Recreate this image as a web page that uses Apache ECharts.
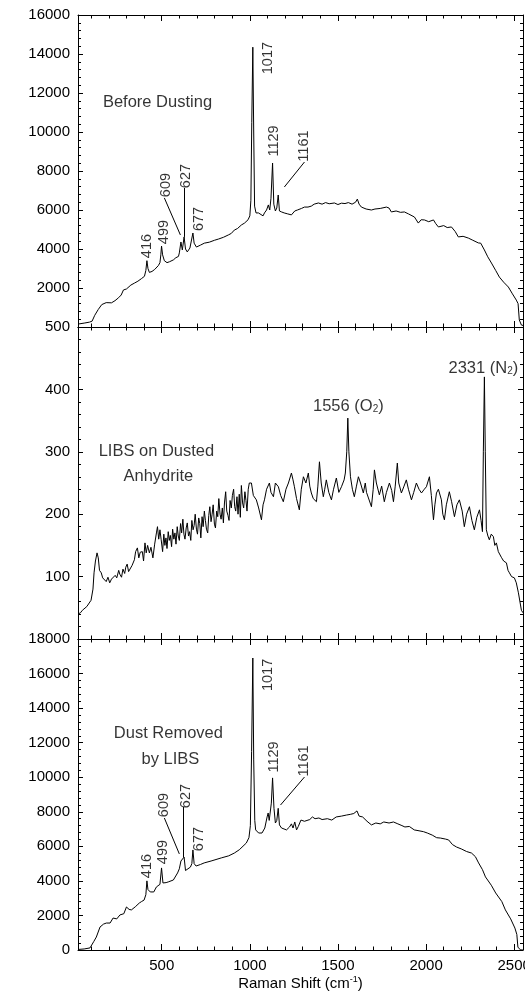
<!DOCTYPE html>
<html><head><meta charset="utf-8">
<script src="https://cdn.jsdelivr.net/npm/echarts@6/dist/echarts.min.js"></script>
<style>html,body{margin:0;padding:0;background:#fff}#c{width:525px;height:996px}</style>
</head><body><div id="c"></div>
<script>
const FONT = 'Liberation Sans, Arial, Helvetica, sans-serif';

// x-axis ticks (Raman shift, cm-1)
const xMajorTicks = [500, 1000, 1500, 2000, 2500];
const xMinorTicks = [100, 200, 300, 400, 600, 700, 800, 900, 1100, 1200, 1300, 1400, 1600, 1700, 1800, 1900, 2100, 2200, 2300, 2400];

// Panel 1: Before Dusting
const beforeX = [25,60,90,105,120,140,160,185,215,235,255,270,283,300,311,325,345,365,385,402,410,416,422,430,445,460,481,490,495,499,505,515,530,545,566,580,595,600,609,617,627,635,645,660,668,677,684,697,720,742,770,800,822,850,878,895,912,930,952,970,990,1000,1006,1011,1017,1022,1027,1035,1049,1060,1075,1083,1095,1105,1113,1120,1129,1136,1145,1153,1161,1168,1180,1195,1215,1236,1255,1270,1293,1310,1330,1349,1365,1389,1410,1430,1450,1480,1500,1520,1540,1559,1580,1600,1610,1620,1633,1660,1690,1710,1740,1775,1790,1803,1830,1855,1877,1900,1934,1956,1972,1991,2015,2042,2055,2070,2100,2120,2144,2165,2183,2210,2240,2265,2297,2310,2331,2350,2371,2395,2416,2440,2467,2490,2512,2522,2529,2541,2550];
const beforeY = [150,200,250,300,600,900,1150,1250,1240,1350,1500,1640,1900,1950,2050,2150,2250,2350,2480,2600,2900,3400,3000,2800,2850,2950,3150,3300,3700,4150,3700,3400,3300,3350,3440,3550,3620,3800,4360,3950,4620,4000,3850,4050,4100,4820,4300,4100,4200,4300,4350,4450,4510,4600,4720,4800,4970,5050,5230,5330,5500,5700,6500,10500,14350,10000,6200,5850,5850,5750,5700,5850,6000,6260,6000,6600,8410,6300,5950,6100,6770,5950,5900,5850,5800,5750,5950,6000,6080,6150,6150,6200,6300,6360,6300,6380,6320,6360,6280,6350,6330,6380,6300,6400,6560,6300,6150,6050,6000,6050,6080,6150,6100,5900,5950,5880,5900,5800,5640,5330,5500,5490,5400,5490,5300,5130,5200,5100,5130,4900,4620,4650,4560,4450,4310,4300,3950,3600,3280,2900,2560,2300,2050,1700,1380,1200,360,100,80];

// Panel 2: LIBS on Dusted Anhydrite
const libsX = [25,39,50,61,75,85,99,110,116,124,133,140,147,157,165,175,185,195,205,215,225,236,245,256,262,272,280,290,296,304,312,323,332,345,352,362,370,378,390,397,405,412,420,430,439,446,450,460,470,476,483,490,497,505,512,518,524,530,537,543,549,556,562,569,575,581,588,594,600,607,613,620,626,632,639,645,652,658,665,671,678,684,690,697,703,710,716,722,729,735,742,748,754,761,767,773,780,786,792,799,805,812,818,824,831,837,844,850,856,863,869,876,882,888,895,901,908,914,920,927,933,940,946,952,959,965,972,978,984,991,997,1009,1020,1037,1050,1066,1075,1083,1095,1111,1120,1134,1145,1162,1175,1190,1205,1219,1236,1245,1253,1265,1281,1292,1304,1318,1332,1340,1349,1360,1378,1386,1395,1405,1417,1425,1434,1448,1463,1475,1491,1505,1520,1535,1542,1550,1556,1562,1571,1582,1593,1605,1616,1628,1644,1655,1662,1673,1690,1700,1707,1718,1735,1748,1763,1775,1792,1805,1815,1825,1837,1845,1860,1875,1888,1900,1917,1930,1945,1960,1974,1990,2002,2019,2030,2042,2050,2059,2070,2087,2095,2104,2115,2132,2145,2161,2175,2189,2205,2217,2230,2246,2260,2274,2288,2303,2312,2320,2325,2331,2336,2342,2351,2359,2370,2382,2390,2399,2410,2427,2440,2456,2465,2473,2485,2501,2512,2524,2541,2550];
const libsY = [40,42,46,48,52,55,62,80,106,125,138,130,110,106,98,100,92,99,90,96,94,102,98,110,104,99,112,105,115,120,108,110,118,127,140,146,130,139,140,125,154,138,150,138,147,150,130,152,170,180,160,175,159,140,168,150,162,145,172,158,166,148,176,160,170,152,180,165,158,185,170,192,168,160,178,186,165,172,158,190,175,182,200,176,168,194,185,162,196,180,205,190,176,170,198,212,188,200,215,184,178,205,196,225,200,192,210,186,218,236,205,198,190,222,210,230,240,212,205,228,200,232,195,246,218,210,236,222,205,240,250,250,230,223,210,191,215,223,240,250,235,228,250,244,230,220,240,250,266,255,244,225,207,240,260,250,266,245,234,225,220,245,284,250,228,240,255,235,223,240,258,235,244,255,266,300,354,300,260,240,228,245,260,250,234,250,235,226,212,240,271,250,231,245,220,235,250,238,220,245,282,250,234,245,255,240,223,235,250,240,234,240,244,260,230,191,215,234,240,223,200,191,215,236,220,196,215,223,205,180,200,212,190,175,195,207,190,172,300,420,300,175,165,159,168,164,150,154,140,131,125,122,110,106,100,98,90,74,46,42];

// Panel 3: Dust Removed by LIBS
const removedX = [25,60,93,104,115,129,150,170,186,207,224,245,263,285,300,315,328,350,373,385,400,410,416,422,435,455,470,490,499,507,525,537,566,590,600,609,617,627,635,646,663,671,677,684,695,720,741,780,838,880,912,940,980,995,1003,1010,1017,1022,1028,1033,1050,1069,1085,1098,1104,1110,1117,1122,1129,1137,1145,1153,1161,1168,1180,1190,1208,1225,1236,1245,1255,1265,1275,1290,1310,1340,1355,1370,1392,1410,1440,1465,1490,1520,1548,1570,1590,1608,1620,1640,1665,1690,1715,1740,1760,1790,1815,1840,1863,1880,1905,1933,1960,1985,2007,2035,2060,2081,2110,2128,2150,2173,2200,2230,2258,2280,2298,2320,2337,2370,2395,2430,2450,2480,2504,2515,2521,2535,2550];
const removedY = [30,60,120,170,500,750,1330,1500,1560,1560,1850,1800,2030,2100,2490,2350,2320,2500,2720,2800,2890,3200,4000,3500,3360,3360,3650,3800,4750,3880,3900,3940,4050,4460,4700,5150,5040,5380,4600,4510,4800,5000,5790,5000,4860,4950,5040,5150,5330,5450,5610,5800,6190,6500,7200,11500,16900,11000,7500,6950,6770,6770,7060,7700,7930,7500,7520,8500,9960,8200,7350,7500,8200,7240,7060,7120,6950,7120,7300,7060,7410,6950,7150,7520,7450,7550,7700,7600,7640,7550,7600,7520,7700,7750,7810,7850,7900,8050,7750,7700,7450,7240,7350,7300,7410,7350,7410,7300,7200,7120,7150,6950,6900,6850,6770,6650,6500,6480,6420,6370,6100,5960,5850,5700,5610,5400,5040,4650,4230,3750,3300,2800,2320,1800,1270,900,170,10,0];

// Annotations
const peakNames = ['416', '499', '609', '627', '677', '1017', '1129', '1161'];
const beforePeakX = [419, 515, 527, 640, 714, 1105, 1139, 1310];
const beforePeakY = [4150, 4870, 7280, 7740, 5540, 13790, 9540, 9280];
const beforeLeaders = [[[515, 6620], [606, 4720]], [[629, 7130], [629, 4620]], [[1310, 8460], [1196, 7180]]];
const removedPeakX = [419, 510, 515, 640, 714, 1105, 1139, 1310];
const removedPeakY = [4860, 5670, 8390, 8910, 6420, 15920, 11170, 10940];
const removedLeaders = [[[515, 7640], [600, 5560]], [[623, 8280], [623, 5380]], [[1310, 10010], [1174, 8390]]];
const beforeTexts = [['Before Dusting', 476, 11540]];
const libsTexts = [['LIBS on Dusted', 470, 300], ['Anhydrite', 481, 260], ['1556 (O{s|2})', 1559, 373], ['2331 (N{s|2})', 2325, 434]];
const removedTexts = [['Dust Removed', 538, 12560], ['by LIBS', 549, 11000]];

const zip = (xs, ys) => xs.map((x, i) => [x, ys[i]]);
const plain = v => String(v);
const grids = [
  {left: 78, right: 2, top: 15, height: 312, containLabel: false, outerBoundsMode: 'none'},
  {left: 78, right: 2, top: 327, height: 312, containLabel: false, outerBoundsMode: 'none'},
  {left: 78, right: 2, top: 639, height: 311, containLabel: false, outerBoundsMode: 'none'}
];
const black = {color: '#000', width: 1};

function xa(g, pos, ticks, len, showLine, showLabels, extra) {
  return Object.assign({
    type: 'value', gridIndex: g, position: pos, min: 25, max: 2550, interval: 25,
    axisLine: {show: showLine, onZero: false, lineStyle: black},
    axisTick: {show: true, inside: true, length: len, customValues: ticks, lineStyle: black},
    axisLabel: {show: showLabels, customValues: xMajorTicks, formatter: plain, color: '#000', fontSize: 15, fontFamily: FONT, margin: 8},
    splitLine: {show: false}, minorTick: {show: false}
  }, extra || {});
}
function ya(g, pos, max, interval, showLabels, showMin) {
  return {
    type: 'value', gridIndex: g, position: pos, min: 0, max: max, interval: interval,
    axisLine: {show: true, onZero: false, lineStyle: black},
    axisTick: {show: true, inside: true, length: 5, lineStyle: black},
    minorTick: {show: true, splitNumber: 5, length: 3, lineStyle: black},
    axisLabel: {show: showLabels, showMinLabel: showMin, formatter: plain, color: '#000', fontSize: 15, fontFamily: FONT, margin: 8},
    splitLine: {show: false}
  };
}

const xAxes = [];
for (let g = 0; g < 3; g++) {
  const extra = g === 2 ? {
    name: 'Raman Shift (cm{sup|-1})', nameLocation: 'middle', nameGap: 25,
    nameTextStyle: {color: '#000', fontSize: 15, fontFamily: FONT,
      rich: {sup: {fontSize: 9, fontFamily: FONT, color: '#000', verticalAlign: 'top', padding: [0, 0, 8, 0]}}}
  } : {};
  xAxes.push(xa(g, 'bottom', xMajorTicks, 6, true, g === 2, extra));
  xAxes.push(xa(g, 'bottom', xMinorTicks, 3.5, false, false));
  xAxes.push(xa(g, 'top', xMajorTicks, 6, true, false));
  xAxes.push(xa(g, 'top', xMinorTicks, 3.5, false, false));
}
const yAxes = [
  ya(0, 'left', 16000, 2000, true, false), ya(0, 'right', 16000, 2000, false, false),
  ya(1, 'left', 500, 100, true, false), ya(1, 'right', 500, 100, false, false),
  ya(2, 'left', 18000, 2000, true, true), ya(2, 'right', 18000, 2000, false, false)
];

function spectrum(g, xs, ys) {
  return {type: 'line', xAxisIndex: 4 * g, yAxisIndex: 2 * g, data: zip(xs, ys),
    showSymbol: false, symbol: 'none', lineStyle: black, silent: true, z: 3};
}
function peakLabels(g, xs, ys, leaders) {
  return {
    type: 'scatter', xAxisIndex: 4 * g, yAxisIndex: 2 * g, symbolSize: 0, silent: true,
    data: peakNames.map((n, i) => ({name: n, value: [xs[i], ys[i]]})),
    label: {show: true, position: 'inside', rotate: 90, formatter: '{b}', color: '#000', fontSize: 14.5, fontFamily: FONT},
    markLine: {symbol: 'none', silent: true, label: {show: false}, lineStyle: {color: '#000', width: 1, type: 'solid'},
      data: leaders.map(l => [{coord: l[0]}, {coord: l[1]}])}
  };
}
function texts(g, arr) {
  return {
    type: 'scatter', xAxisIndex: 4 * g, yAxisIndex: 2 * g, symbolSize: 0, silent: true,
    data: arr.map(t => ({name: t[0], value: [t[1], t[2]]})),
    label: {show: true, position: 'inside', formatter: '{b}', color: '#000', fontSize: 16.5, fontFamily: FONT,
      rich: {s: {fontSize: 10, fontFamily: FONT, color: '#000', verticalAlign: 'bottom', padding: [7, 0, 0, 0]}}}
  };
}

const chart = echarts.init(document.getElementById('c'), null, {renderer: 'canvas'});
chart.setOption({
  animation: false,
  backgroundColor: '#fff',
  grid: grids,
  xAxis: xAxes,
  yAxis: yAxes,
  series: [
    spectrum(0, beforeX, beforeY),
    spectrum(1, libsX, libsY),
    spectrum(2, removedX, removedY),
    peakLabels(0, beforePeakX, beforePeakY, beforeLeaders),
    peakLabels(2, removedPeakX, removedPeakY, removedLeaders),
    texts(0, beforeTexts),
    texts(1, libsTexts),
    texts(2, removedTexts)
  ]
});
</script>
</body></html>
